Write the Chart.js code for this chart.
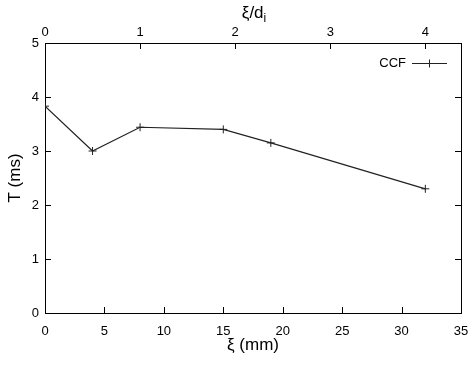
<!DOCTYPE html>
<html>
<head>
<meta charset="utf-8">
<script src="https://cdn.jsdelivr.net/npm/chart.js@4.4.1/dist/chart.umd.min.js"></script>
<style>
  html, body { margin: 0; padding: 0; background: #fff; }
  #wrap { width: 474px; height: 369px; }
</style>
</head>
<body>
<div id="wrap"><canvas id="myChart" width="474" height="369"></canvas></div>
<script>
// data
var XI_MM = [0, 4, 8, 15, 19, 32]
var T_MS = [3.83, 3.0, 3.44, 3.40, 3.15, 2.30]
var SERIES_LABEL = "CCF"
var DI_MM = 8            // top axis is xi / d_i
var X_TICKS = [0, 5, 10, 15, 20, 25, 30, 35]
var Y_TICKS = [0, 1, 2, 3, 4, 5]
var X2_TICKS = [0, 1, 2, 3, 4]

var FONT = "'Liberation Sans', Arial, Helvetica, sans-serif"

// gnuplot style ticks pointing into the plot
const inwardTicks = {
  id: 'inwardTicks',
  afterDraw(chart) {
    const ctx = chart.ctx
    const a = chart.chartArea
    const len = 6
    ctx.save()
    ctx.strokeStyle = '#000'
    ctx.lineWidth = 1
    ctx.beginPath()
    X_TICKS.forEach(function(v) {
      const px = Math.round(chart.scales.x.getPixelForValue(v)) + 0.5
      ctx.moveTo(px, a.bottom)
      ctx.lineTo(px, a.bottom - len)
    })
    X2_TICKS.forEach(function(v) {
      const px = Math.round(chart.scales.x2.getPixelForValue(v)) + 0.5
      ctx.moveTo(px, a.top)
      ctx.lineTo(px, a.top + len)
    })
    Y_TICKS.forEach(function(v) {
      const py = Math.round(chart.scales.y.getPixelForValue(v)) + 0.5
      ctx.moveTo(a.left, py)
      ctx.lineTo(a.left + len, py)
      ctx.moveTo(a.right, py)
      ctx.lineTo(a.right - len, py)
    })
    ctx.stroke()

    // top axis title with subscript
    const cx = (a.left + a.right) / 2 + 1
    ctx.fillStyle = '#000'
    ctx.textBaseline = 'alphabetic'
    ctx.font = '17px ' + FONT
    const main = '\u03BE/d'
    const w1 = ctx.measureText(main).width
    ctx.font = '12px ' + FONT
    const w2 = ctx.measureText('i').width
    const x0 = cx - (w1 + w2) / 2
    ctx.font = '17px ' + FONT
    ctx.textAlign = 'left'
    ctx.fillText(main, x0, 18)
    ctx.font = '12px ' + FONT
    ctx.fillText('i', x0 + w1, 22)

    // legend, gnuplot style: label then sample
    const ds = chart.data.datasets[0]
    const ly = 63
    ctx.font = '13px ' + FONT
    ctx.textAlign = 'right'
    ctx.textBaseline = 'middle'
    ctx.fillText(ds.label, 406, ly + 0.5)
    ctx.strokeStyle = ds.borderColor
    ctx.beginPath()
    ctx.moveTo(412, ly + 0.5)
    ctx.lineTo(447, ly + 0.5)
    ctx.moveTo(429.5, ly - 3.5)
    ctx.lineTo(429.5, ly + 4.5)
    ctx.stroke()
    ctx.restore()
  }
}

function noPad(s) {
  s.paddingLeft = 0
  s.paddingRight = 0
  s.paddingTop = 0
  s.paddingBottom = 0
}

const data = {
  datasets: [{
    label: SERIES_LABEL,
    data: XI_MM.map(function(x, i) { return {x: x, y: T_MS[i]} }),
    showLine: true,
    borderColor: '#222',
    borderWidth: 1.2,
    pointStyle: 'cross',
    pointRadius: 4,
    pointBorderWidth: 1,
    pointBorderColor: '#222',
    xAxisID: 'x',
    yAxisID: 'y'
  }]
}

const config = {
  type: 'scatter',
  data: data,
  plugins: [inwardTicks],
  options: {
    responsive: false,
    animation: false,
    layout: { padding: { left: 0, right: 13, top: 0, bottom: 0 } },
    plugins: {
      legend: { display: false },
      tooltip: { enabled: false }
    },
    scales: {
      x: {
        type: 'linear',
        position: 'bottom',
        min: 0,
        max: 35,
        afterBuildTicks: function(s) { s.ticks = X_TICKS.map(function(v) { return {value: v} }) },
        afterFit: function(s) { s.height = 56; noPad(s) },
        grid: { display: false, drawTicks: false },
        border: { display: true, color: '#000', width: 1 },
        ticks: { color: '#000', font: { family: FONT, size: 13 }, padding: 11, maxRotation: 0 },
        title: { display: true, text: '\u03BE (mm)', color: '#000', font: { family: FONT, size: 17 }, padding: { top: 2, bottom: 13 } }
      },
      x2: {
        type: 'linear',
        position: 'top',
        min: 0,
        max: 35 / DI_MM,
        afterBuildTicks: function(s) { s.ticks = X2_TICKS.map(function(v) { return {value: v} }) },
        afterFit: function(s) { s.height = 43; noPad(s) },
        grid: { display: false, drawTicks: false },
        border: { display: true, color: '#000', width: 1 },
        ticks: { color: '#000', font: { family: FONT, size: 13 }, padding: 3, maxRotation: 0 }
      },
      y: {
        type: 'linear',
        position: 'left',
        min: 0,
        max: 5,
        afterBuildTicks: function(s) { s.ticks = Y_TICKS.map(function(v) { return {value: v} }) },
        afterFit: function(s) { s.width = 45; noPad(s) },
        grid: { display: false, drawTicks: false },
        border: { display: true, color: '#000', width: 1 },
        ticks: { color: '#000', font: { family: FONT, size: 13 }, padding: 6 },
        title: { display: true, text: 'T (ms)', color: '#000', font: { family: FONT, size: 17 }, padding: { top: 5, bottom: 2 } }
      },
      y2: {
        type: 'linear',
        position: 'right',
        min: 0,
        max: 5,
        afterFit: function(s) { s.width = 0; noPad(s) },
        grid: { display: false, drawTicks: false },
        border: { display: true, color: '#000', width: 1 },
        ticks: { display: false }
      }
    }
  }
}

var myChart = new Chart(document.getElementById('myChart'), config)
</script>
</body>
</html>
